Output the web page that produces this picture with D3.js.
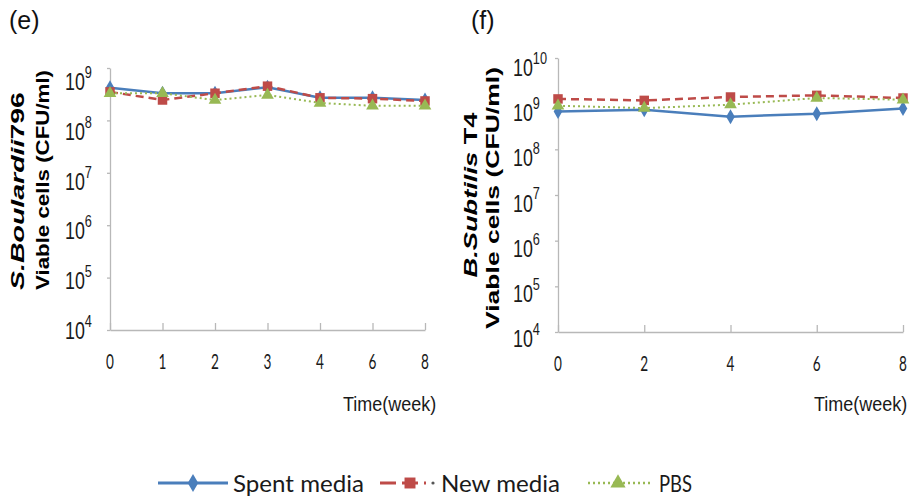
<!DOCTYPE html>
<html>
<head>
<meta charset="utf-8">
<script src="https://cdn.jsdelivr.net/npm/d3@7"></script>
<style>
  body { margin: 0; background: #fff; }
  svg { display: block; }
</style>
</head>
<body>
<div id="chart"></div>
<script>
// panel (e): S. boulardii 796
const weeksE = ["0", "1", "2", "3", "4", "6", "8"];
const spentE = [4.2e8, 3.3e8, 3.3e8, 4.3e8, 2.7e8, 2.7e8, 2.45e8];
const newE = [3.5e8, 2.45e8, 3.3e8, 4.5e8, 2.7e8, 2.6e8, 2.35e8];
const pbsE = [3.3e8, 3.3e8, 2.45e8, 3.05e8, 2.15e8, 1.9e8, 1.9e8];
const expE = [4, 5, 6, 7, 8, 9];

// panel (f): B. subtilis T4
const weeksF = ["0", "2", "4", "6", "8"];
const spentF = [6.7e8, 7.4e8, 5.2e8, 6.0e8, 7.8e8];
const newF = [1.27e9, 1.18e9, 1.4e9, 1.52e9, 1.33e9];
const pbsF = [9.0e8, 8.0e8, 9.5e8, 1.33e9, 1.22e9];
const expF = [4, 5, 6, 7, 8, 9, 10];

const seriesNames = ["Spent media", "New media", "PBS"];

const width = 916;
const height = 499;

const blue = "#4a7ebb";
const red = "#be4b48";
const green = "#98b954";
const axisColor = "#b8b8b8";

const styles = [
  { color: blue, dash: null, sw: 2.5, symbol: d3.symbolDiamond, size: 65 },
  { color: red, dash: "8,5", sw: 2.5, symbol: d3.symbolSquare, size: 90 },
  { color: green, dash: "2,3", sw: 2, symbol: d3.symbolTriangle, size: 70 },
];

const svg = d3
  .select("#chart")
  .append("svg")
  .attr("width", width)
  .attr("height", height)
  .attr("viewBox", [0, 0, width, height]);

const panels = [
  {
    tag: "(e)", tagX: 9,
    weeks: weeksE, series: [spentE, newE, pbsE], exps: expE,
    x0: 110, x1: 425, yTop: 68, yBottom: 330,
    species: "S.Boulardii", strain: "796",
    t1x: 24, t1y: 191, t1len: 198,
    t2x: 49, t2y: 180, t2len: 220,
    timeX: 343, offTop: 14, offBottom: 1,
  },
  {
    tag: "(f)", tagX: 471,
    weeks: weeksF, series: [spentF, newF, pbsF], exps: expF,
    x0: 558, x1: 903, yTop: 58, yBottom: 332,
    species: "B.Subtilis", strain: " T4",
    t1x: 477, t1y: 195, t1len: 165,
    t2x: 499, t2y: 198, t2len: 262,
    timeX: 814, offTop: 10, offBottom: 7,
  },
];

panels.forEach((p) => {
  const x = d3.scalePoint().domain(p.weeks).range([p.x0, p.x1]);
  const y = d3
    .scaleLog()
    .domain([1e4, Math.pow(10, d3.max(p.exps))])
    .range([p.yBottom, p.yTop]);

  // label drift: the printed labels sit a bit off their ticks
  const off = d3.scaleLinear()
    .domain([p.yTop, p.yBottom])
    .range([p.offTop, p.offBottom]);

  // panel letter
  svg.append("text")
    .attr("x", p.tagX)
    .attr("y", 29)
    .attr("font-family", "Liberation Sans, Arial, sans-serif")
    .attr("font-size", 25)
    .attr("fill", "#111")
    .text(p.tag);

  // x axis, ticks pointing up
  const gx = svg.append("g")
    .attr("transform", `translate(0,${p.yBottom})`)
    .call(d3.axisTop(x).tickSize(7).tickSizeOuter(0).tickFormat(""));
  gx.select(".domain").attr("stroke", axisColor).attr("stroke-width", 1.3);
  gx.selectAll(".tick line").attr("stroke", axisColor).attr("stroke-width", 1.3);

  // y axis
  const gy = svg.append("g")
    .attr("transform", `translate(${p.x0},0)`)
    .call(
      d3.axisLeft(y)
        .tickValues(p.exps.map((e) => Math.pow(10, e)))
        .tickSize(3)
        .tickSizeOuter(0)
        .tickFormat("")
    );
  gy.select(".domain").attr("stroke", axisColor).attr("stroke-width", 1.3);
  gy.selectAll(".tick line").attr("stroke", axisColor).attr("stroke-width", 1.3);

  // y tick labels 10^n
  const yl = svg.append("g")
    .selectAll("text")
    .data(p.exps)
    .join("text")
    .attr("transform", (e) => {
      const ty = y(Math.pow(10, e));
      return `translate(${p.x0 - 45},${ty + off(ty) + 8}) scale(0.85,1.1)`;
    })
    .attr("font-family", "Liberation Sans, Arial, sans-serif")
    .attr("font-size", 21)
    .attr("fill", "#1a1a1a");
  yl.append("tspan").text("10");
  yl.append("tspan")
    .attr("font-size", 15)
    .attr("dy", -11)
    .text((e) => e);

  // x tick labels
  svg.append("g")
    .selectAll("text")
    .data(p.weeks)
    .join("text")
    .attr("transform", (w) => `translate(${x(w)},${p.yBottom + 39}) scale(0.85,1.3)`)
    .attr("text-anchor", "middle")
    .attr("font-family", "Lato, sans-serif")
    .attr("font-size", 16)
    .attr("fill", "#1a1a1a")
    .text((w) => w);

  // x title
  svg.append("text")
    .attr("transform", `translate(${p.timeX},411) scale(1,1.17)`)
    .attr("font-family", "Liberation Sans, Arial, sans-serif")
    .attr("font-size", 18)
    .attr("fill", "#1a1a1a")
    .text("Time(week)");

  // y title, two lines
  const t1 = svg.append("text")
    .attr("transform", `translate(${p.t1x},${p.t1y}) rotate(-90)`)
    .attr("text-anchor", "middle")
    .attr("font-family", "Liberation Sans, Arial, sans-serif")
    .attr("font-weight", "bold")
    .attr("font-size", 18)
    .attr("textLength", p.t1len)
    .attr("lengthAdjust", "spacingAndGlyphs")
    .attr("fill", "#000");
  t1.append("tspan").attr("font-style", "italic").text(p.species);
  t1.append("tspan").text(p.strain);

  svg.append("text")
    .attr("transform", `translate(${p.t2x},${p.t2y}) rotate(-90)`)
    .attr("text-anchor", "middle")
    .attr("font-family", "Liberation Sans, Arial, sans-serif")
    .attr("font-weight", "bold")
    .attr("font-size", 18)
    .attr("textLength", p.t2len)
    .attr("lengthAdjust", "spacingAndGlyphs")
    .attr("fill", "#000")
    .text("Viable cells (CFU/ml)");

  // lines and markers
  const line = d3.line()
    .x((d) => x(d.week))
    .y((d) => y(d.value));

  p.series.forEach((vals, i) => {
    const s = styles[i];
    const pts = vals.map((v, j) => ({ week: p.weeks[j], value: v }));
    svg.append("path")
      .datum(pts)
      .attr("fill", "none")
      .attr("stroke", s.color)
      .attr("stroke-width", s.sw)
      .attr("stroke-dasharray", s.dash)
      .attr("d", line);
    svg.append("g")
      .selectAll("path")
      .data(pts)
      .join("path")
      .attr("transform", (d) => `translate(${x(d.week)},${y(d.value)})`)
      .attr("fill", s.color)
      .attr("d", d3.symbol(s.symbol, s.size));
  });
});

// legend
const legendItems = [
  { x0: 158, x1: 228, mx: 193, tx: 233, len: 131 },
  { x0: 380, x1: 426, mx: 410, tx: 441, len: 119 },
  { x0: 588, x1: 650, mx: 618, tx: 659, len: 33 },
];
const ly = 483;
const legend = svg.append("g");
legendItems.forEach((it, i) => {
  const s = styles[i];
  legend.append("line")
    .attr("x1", it.x0).attr("x2", it.x1)
    .attr("y1", ly).attr("y2", ly)
    .attr("stroke", s.color)
    .attr("stroke-width", s.sw + 0.5)
    .attr("stroke-dasharray", i === 1 ? "16,6" : s.dash);
  if (i === 1) {
    legend.append("circle").attr("cx", 433).attr("cy", ly).attr("r", 1.6).attr("fill", "#555");
  }
  legend.append("path")
    .attr("transform", `translate(${it.mx},${ly})`)
    .attr("fill", s.color)
    .attr("d", d3.symbol(s.symbol, s.size + 30));
  legend.append("text")
    .attr("x", it.tx)
    .attr("y", ly + 9)
    .attr("font-family", "Lato, sans-serif")
    .attr("font-size", 23)
    .attr("textLength", it.len)
    .attr("lengthAdjust", "spacingAndGlyphs")
    .attr("fill", "#1a1a1a")
    .text(seriesNames[i]);
});
</script>
</body>
</html>
